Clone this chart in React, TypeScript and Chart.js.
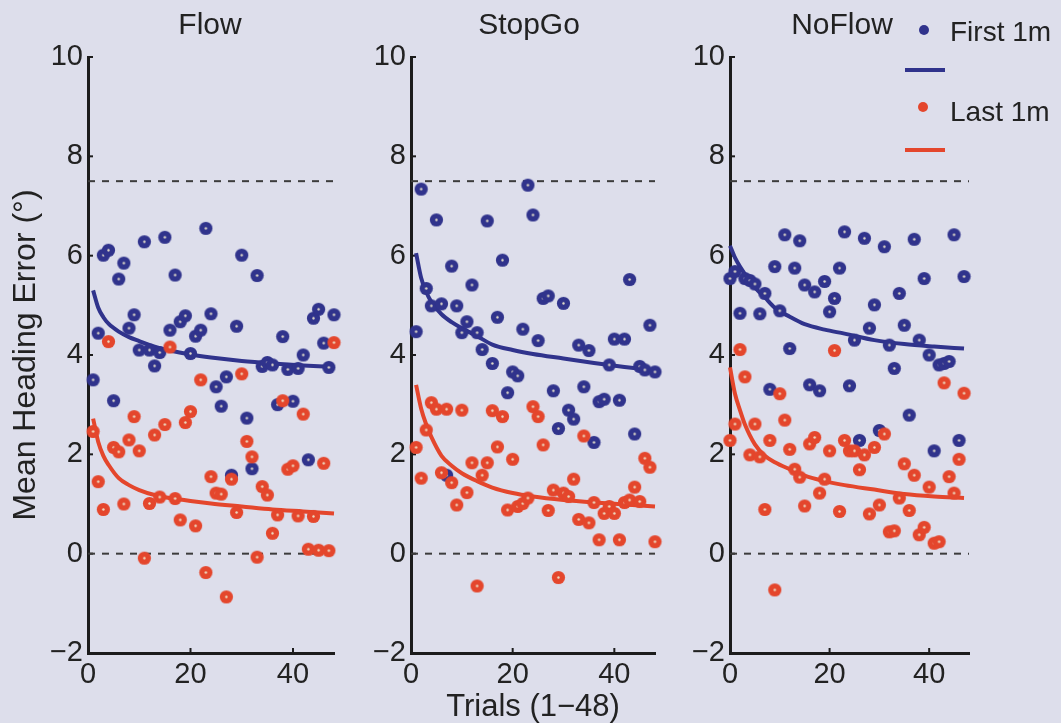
import { useEffect, useRef } from "react";
import { Chart, registerables } from "chart.js";

Chart.register(...registerables);

// ---- data ---------------------------------------------------------------
const TRIALS = [
  1, 2, 3, 4, 5, 6, 7, 8, 9, 10, 11, 12, 13, 14, 15, 16, 17, 18, 19, 20, 21, 22, 23, 24,
  25, 26, 27, 28, 29, 30, 31, 32, 33, 34, 35, 36, 37, 38, 39, 40, 41, 42, 43, 44, 45, 46, 47, 48,
];
// the NoFlow block is logged from trial 0
const NOFLOW_TRIALS = [
  0, 1, 2, 3, 4, 5, 6, 7, 8, 9, 10, 11, 12, 13, 14, 15, 16, 17, 18, 19, 20, 21, 22, 23,
  24, 25, 26, 27, 28, 29, 30, 31, 32, 33, 34, 35, 36, 37, 38, 39, 40, 41, 42, 43, 44, 45, 46, 47,
];

const FLOW_FIRST = [
  3.5, 4.44, 6.01, 6.11, 3.08, 5.53, 5.85, 4.54, 4.81, 4.1, 6.28, 4.1, 3.78, 4.05, 6.37, 4.5,
  5.61, 4.67, 4.79, 4.03, 4.38, 4.5, 6.55, 4.83, 3.36, 2.97, 3.56, 1.58, 4.58, 6.01, 2.73, 1.71,
  5.6, 3.77, 3.85, 3.8, 3.0, 4.37, 3.71, 3.07, 3.73, 4.0, 1.89, 4.74, 4.92, 4.24, 3.75, 4.81,
];
const FLOW_LAST = [
  2.46, 1.45, 0.89, 4.27, 2.14, 2.05, 1.0, 2.29, 2.76, 2.07, -0.09, 1.01, 2.39, 1.14, 2.6, 4.16,
  1.11, 0.68, 2.64, 2.86, 0.56, 3.5, -0.38, 1.55, 1.22, 1.2, -0.87, 1.5, 0.83, 3.62, 2.26, 1.95,
  -0.07, 1.35, 1.18, 0.41, 0.78, 3.08, 1.7, 1.77, 0.76, 2.81, 0.09, 0.75, 0.07, 1.82, 0.06, 4.25,
];
const STOPGO_FIRST = [
  4.47, 7.34, 5.34, 4.99, 6.72, 5.03, 1.58, 5.79, 4.99, 4.45, 4.67, 5.41, 4.45, 4.11, 6.7, 3.83,
  4.76, 5.91, 3.24, 3.66, 3.58, 4.52, 7.42, 6.82, 4.29, 5.14, 5.19, 3.28, 2.52, 5.04, 2.89, 2.71,
  4.2, 3.36, 4.09, 2.24, 3.06, 3.11, 3.8, 4.32, 3.09, 4.32, 5.52, 2.41, 3.77, 3.7, 4.6, 3.66,
];
const STOPGO_LAST = [
  2.14, 1.52, 2.49, 3.04, 2.91, 1.63, 2.91, 1.43, 0.98, 2.89, 1.23, 1.83, -0.65, 1.58, 1.83, 2.88,
  2.15, 2.76, 0.88, 1.9, 0.95, 1.01, 1.12, 2.96, 2.76, 2.19, 0.87, 1.28, -0.48, 1.22, 1.15, 1.5,
  0.69, 2.37, 0.62, 1.03, 0.28, 0.81, 0.95, 0.81, 0.28, 1.03, 1.08, 1.34, 1.05, 1.92, 1.74, 0.24,
];
const NOFLOW_FIRST = [
  5.54, 5.68, 4.84, 5.54, 5.5, 5.43, 4.83, 5.24, 3.31, 5.78, 4.89, 6.42, 4.13, 5.75, 6.3, 5.41,
  3.4, 5.27, 3.28, 5.48, 4.87, 5.14, 5.75, 6.48, 3.38, 4.3, 2.28, 6.35, 4.54, 5.01, 2.48, 6.18,
  4.2, 3.73, 5.24, 4.6, 2.79, 6.33, 4.3, 5.54, 4.0, 2.07, 3.8, 3.83, 3.87, 6.42, 2.28, 5.58,
];
const NOFLOW_LAST = [
  2.28, 2.61, 4.11, 3.56, 1.99, 2.61, 1.95, 0.89, 2.28, -0.73, 3.22, 2.69, 2.1, 1.7, 1.54, 0.96,
  2.21, 2.34, 1.22, 1.5, 2.07, 4.09, 0.85, 2.28, 2.07, 2.07, 1.69, 1.99, 0.8, 2.14, 0.98, 2.41,
  0.44, 0.46, 1.12, 1.81, 0.87, 1.58, 0.38, 0.53, 1.34, 0.21, 0.24, 3.44, 1.55, 1.22, 1.9, 3.23,
];

// learning-curve fits, sampled along the trial axis
const FIT_TRIALS = [1, 2, 3, 4, 6, 8, 10, 13, 16, 20, 24, 30, 36, 42, 48];
const NOFLOW_FIT_TRIALS = [0, 1, 2, 3, 5, 7, 9, 12, 15, 19, 23, 29, 35, 41, 47];

const FLOW_FIT_FIRST = [5.3, 4.95, 4.76, 4.63, 4.47, 4.36, 4.28, 4.17, 4.09, 4.01, 3.95, 3.88, 3.83, 3.79, 3.76];
const FLOW_FIT_LAST = [2.72, 2.25, 1.97, 1.79, 1.52, 1.38, 1.28, 1.18, 1.12, 1.06, 1.01, 0.95, 0.89, 0.85, 0.81];
const STOPGO_FIT_FIRST = [6.05, 5.55, 5.27, 5.07, 4.82, 4.66, 4.54, 4.38, 4.21, 4.1, 4.02, 3.93, 3.84, 3.76, 3.69];
const STOPGO_FIT_LAST = [3.4, 2.92, 2.6, 2.35, 1.97, 1.77, 1.62, 1.46, 1.33, 1.22, 1.15, 1.08, 1.03, 0.99, 0.95];
const NOFLOW_FIT_FIRST = [6.2, 5.96, 5.78, 5.63, 5.36, 5.16, 4.95, 4.77, 4.62, 4.51, 4.43, 4.3, 4.22, 4.17, 4.13];
const NOFLOW_FIT_LAST = [3.75, 3.22, 2.89, 2.6, 2.2, 1.97, 1.84, 1.7, 1.57, 1.46, 1.38, 1.29, 1.2, 1.15, 1.12];

// dashed reference levels
const REF_LEVELS = [0, 7.5];

const X_TICKS = [0, 20, 40];
const Y_TICKS = [-2, 0, 2, 4, 6, 8, 10];
const X_MIN = 0;
const X_MAX = 48;
const Y_MIN = -2;
const Y_MAX = 10;

// ---- style --------------------------------------------------------------
const FONT = '"Liberation Sans", Arial, Helvetica, sans-serif';
const BG = "#dddeeb";
const BLUE = "#30338c";
const RED = "#e4462c";
const AXIS = "#1c1c1c";
const TEXT = "#222222";
const DASH = "#3c3c3c";

const TOP = 57; // pixel row of y = 10
const X_AXIS_HEIGHT = 70;
const CANVAS_H = 723;

type PanelSpec = {
  title: string;
  titleX: number;
  trials: number[];
  first: number[];
  last: number[];
  fitTrials: number[];
  fitFirst: number[];
  fitLast: number[];
  left: number;
  width: number;
  axisWidth: number;
  padRight: number;
  yTitle: boolean;
  xTitle: boolean;
};

const PANELS: PanelSpec[] = [
  {
    title: "Flow", titleX: 210, trials: TRIALS, first: FLOW_FIRST, last: FLOW_LAST,
    fitTrials: FIT_TRIALS, fitFirst: FLOW_FIT_FIRST, fitLast: FLOW_FIT_LAST,
    left: 0, width: 350, axisWidth: 88, padRight: 16, yTitle: true, xTitle: false,
  },
  {
    title: "StopGo", titleX: 529, trials: TRIALS, first: STOPGO_FIRST, last: STOPGO_LAST,
    fitTrials: FIT_TRIALS, fitFirst: STOPGO_FIT_FIRST, fitLast: STOPGO_FIT_LAST,
    left: 350, width: 330, axisWidth: 61, padRight: 25, yTitle: false, xTitle: true,
  },
  {
    title: "NoFlow", titleX: 842, trials: NOFLOW_TRIALS, first: NOFLOW_FIRST, last: NOFLOW_LAST,
    fitTrials: NOFLOW_FIT_TRIALS, fitFirst: NOFLOW_FIT_FIRST, fitLast: NOFLOW_FIT_LAST,
    left: 680, width: 300, axisWidth: 50, padRight: 11, yTitle: false, xTitle: false,
  },
];

// filled marker with a small pale centre
function makeDot(color: string): HTMLCanvasElement {
  const c = document.createElement("canvas");
  c.width = 15;
  c.height = 15;
  const g = c.getContext("2d")!;
  g.fillStyle = color;
  g.beginPath();
  g.arc(7.5, 7.5, 6.6, 0, Math.PI * 2);
  g.fill();
  g.fillStyle = "rgba(238,232,205,0.95)";
  g.beginPath();
  g.arc(7.5, 7.5, 1.2, 0, Math.PI * 2);
  g.fill();
  return c;
}

// MATLAB-style ticks pointing into the plot area
const inwardTicks = {
  id: "inwardTicks",
  beforeDatasetsDraw(chart: any) {
    const { ctx, chartArea, scales } = chart;
    const x = scales.x;
    const y = scales.y;
    ctx.save();
    ctx.strokeStyle = AXIS;
    ctx.lineWidth = 2;
    y.ticks.forEach((t: any) => {
      const py = y.getPixelForValue(t.value);
      ctx.beginPath();
      ctx.moveTo(chartArea.left, py);
      ctx.lineTo(chartArea.left + 5, py);
      ctx.stroke();
    });
    x.ticks.forEach((t: any) => {
      const px = x.getPixelForValue(t.value);
      ctx.beginPath();
      ctx.moveTo(px, chartArea.bottom);
      ctx.lineTo(px, chartArea.bottom - 5);
      ctx.stroke();
    });
    ctx.restore();
  },
};

const pts = (xs: number[], ys: number[]) => ys.map((y, i) => ({ x: xs[i], y }));
const fmtTick = (v: number) => (v < 0 ? "\u2212" + Math.abs(v) : String(v));

function Panel({ spec }: { spec: PanelSpec }) {
  const ref = useRef<HTMLCanvasElement>(null);

  useEffect(() => {
    if (!ref.current) return;
    const dotFirst = makeDot(BLUE);
    const dotLast = makeDot(RED);
    const tickFont = { family: FONT, size: 29 };

    const chart = new Chart(ref.current, {
      type: "scatter",
      data: {
        datasets: [
          {
            label: "Last 1m",
            data: pts(spec.trials, spec.last),
            pointStyle: dotLast as any,
            pointRadius: 7,
            order: 1,
            clip: false as any,
          },
          {
            label: "First 1m",
            data: pts(spec.trials, spec.first),
            pointStyle: dotFirst as any,
            pointRadius: 7,
            order: 2,
            clip: false as any,
          },
          {
            type: "line" as any,
            label: "Last fit",
            data: pts(spec.fitTrials, spec.fitLast),
            borderColor: RED,
            borderWidth: 4,
            pointRadius: 0,
            cubicInterpolationMode: "monotone",
            fill: false,
            order: 3,
            clip: false as any,
          },
          {
            type: "line" as any,
            label: "First fit",
            data: pts(spec.fitTrials, spec.fitFirst),
            borderColor: BLUE,
            borderWidth: 4,
            pointRadius: 0,
            cubicInterpolationMode: "monotone",
            fill: false,
            order: 4,
            clip: false as any,
          },
          ...REF_LEVELS.map((v) => ({
            type: "line" as any,
            label: "ref " + v,
            data: [
              { x: X_MIN, y: v },
              { x: X_MAX, y: v },
            ],
            borderColor: DASH,
            borderWidth: 2,
            borderDash: [7, 7],
            pointRadius: 0,
            fill: false,
            order: 5,
          })),
        ] as any,
      },
      options: {
        animation: false,
        responsive: false,
        maintainAspectRatio: false,
        devicePixelRatio: 1,
        events: [],
        layout: { padding: { top: TOP, bottom: 0, left: 0, right: spec.padRight } },
        plugins: {
          legend: { display: false },
          tooltip: { enabled: false },
          title: { display: false },
        },
        scales: {
          x: {
            type: "linear",
            min: X_MIN,
            max: X_MAX,
            afterBuildTicks: (s: any) => {
              s.ticks = X_TICKS.map((value) => ({ value }));
            },
            afterFit: (s: any) => {
              s.height = X_AXIS_HEIGHT;
            },
            grid: { display: false, drawTicks: false },
            border: { display: true, color: AXIS, width: 3 },
            ticks: {
              font: tickFont,
              color: TEXT,
              padding: 5,
              maxRotation: 0,
              autoSkip: false,
              callback: (v: any) => fmtTick(Number(v)),
            },
            title: {
              display: spec.xTitle,
              text: "Trials (1\u221248)",
              font: { family: FONT, size: 31, lineHeight: 1 },
              color: TEXT,
              padding: { top: 0, bottom: 0 },
            },
          },
          y: {
            type: "linear",
            min: Y_MIN,
            max: Y_MAX,
            afterBuildTicks: (s: any) => {
              s.ticks = Y_TICKS.map((value) => ({ value }));
            },
            afterFit: (s: any) => {
              s.width = spec.axisWidth;
            },
            grid: { display: false, drawTicks: false },
            border: { display: true, color: AXIS, width: 3 },
            ticks: {
              font: tickFont,
              color: TEXT,
              padding: 5,
              autoSkip: false,
              callback: (v: any) => fmtTick(Number(v)),
            },
            title: {
              display: spec.yTitle,
              text: "Mean Heading Error (\u00b0)",
              font: { family: FONT, size: 32 },
              color: TEXT,
              padding: { top: 7, bottom: 0 },
            },
          },
        },
      } as any,
      plugins: [inwardTicks as any],
    });
    return () => chart.destroy();
  }, [spec]);

  return (
    <canvas
      ref={ref}
      width={spec.width}
      height={CANVAS_H}
      style={{ position: "absolute", left: spec.left, top: 0, width: spec.width, height: CANVAS_H }}
    />
  );
}

export default function App() {
  const text = { position: "absolute" as const, fontFamily: FONT, color: TEXT, whiteSpace: "nowrap" as const };
  return (
    <div
      style={{
        position: "absolute",
        left: 0,
        top: 0,
        width: 1061,
        height: 723,
        background: BG,
        overflow: "hidden",
      }}
    >
      {PANELS.map((p) => (
        <Panel key={p.title} spec={p} />
      ))}
      {PANELS.map((p) => (
        <div
          key={"t" + p.title}
          style={{ ...text, left: p.titleX - 100, top: 9, width: 200, textAlign: "center", fontSize: 30, lineHeight: "30px" }}
        >
          {p.title}
        </div>
      ))}

      {/* legend */}
      <div style={{ position: "absolute", left: 919, top: 25, width: 10, height: 10, borderRadius: 5, background: BLUE }} />
      <div style={{ ...text, left: 950, top: 18, fontSize: 28, lineHeight: "28px" }}>First 1m</div>
      <div style={{ position: "absolute", left: 905, top: 68, width: 40, height: 4, background: BLUE }} />
      <div style={{ position: "absolute", left: 918, top: 102, width: 10, height: 10, borderRadius: 5, background: RED }} />
      <div style={{ ...text, left: 950, top: 98, fontSize: 28, lineHeight: "28px" }}>Last 1m</div>
      <div style={{ position: "absolute", left: 905, top: 148, width: 40, height: 4, background: RED }} />
    </div>
  );
}
